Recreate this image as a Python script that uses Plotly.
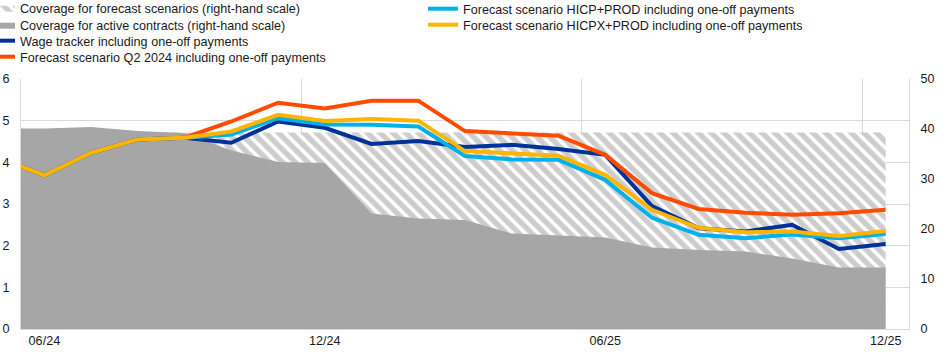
import plotly.graph_objects as go

months = ['05/24', '06/24', '07/24', '08/24', '09/24', '10/24', '11/24', '12/24',
          '01/25', '02/25', '03/25', '04/25', '05/25', '06/25', '07/25', '08/25',
          '09/25', '10/25', '11/25', '12/25']
tick_labels = ['06/24', '12/24', '06/25', '12/25']

# right-hand scale (%)
coverage_forecast = [39.3] * 20
coverage_active = [40.1, 40.1, 40.4, 39.6, 39.2, 35.7, 33.4, 33.2, 23.1, 22.1,
                   21.8, 19.1, 18.7, 18.3, 16.3, 15.8, 15.5, 14.1, 12.3, 12.3]
# left-hand scale (annual % change)
wage_tracker = [4.12, 3.69, 4.23, 4.55, 4.59, 4.47, 4.98, 4.83, 4.44, 4.51,
                4.37, 4.42, 4.32, 4.18, 2.95, 2.42, 2.34, 2.50, 1.92, 2.04]
scen_q2_2024 = [4.12, 3.69, 4.23, 4.55, 4.59, 4.98, 5.43, 5.29, 5.48, 5.48,
                4.75, 4.70, 4.64, 4.18, 3.26, 2.88, 2.79, 2.74, 2.78, 2.86]
scen_hicp = [4.12, 3.69, 4.23, 4.55, 4.59, 4.67, 5.06, 4.91, 4.90, 4.86,
             4.15, 4.07, 4.06, 3.58, 2.67, 2.26, 2.18, 2.27, 2.18, 2.28]
scen_hicpx = [4.12, 3.69, 4.23, 4.55, 4.59, 4.74, 5.14, 4.99, 5.04, 5.00,
              4.27, 4.22, 4.16, 3.70, 2.86, 2.43, 2.32, 2.34, 2.23, 2.35]

x = list(range(-1, len(months) - 1))  # 06/24 -> 0
tick_pos = [months.index(t) - 1 for t in tick_labels]

FONT = "Liberation Sans, Arial, sans-serif"
FS = 12.6
GRID = "#d9d9d9"
W, H = 946, 355
ML, MR, MT, MB = 21, 37, 79, 26
PW = W - ML - MR

fig = go.Figure()
fig.add_trace(go.Scatter(
    x=x, y=coverage_forecast, name="Coverage for forecast scenarios (right-hand scale)",
    mode="lines", line=dict(width=0), fill="tozeroy", fillcolor="#a6a6a6",
    fillpattern=dict(shape="\\", fgcolor="#9c9c9c", bgcolor="white", size=9, solidity=0.6),
    yaxis="y", legend="legend", hoverinfo="skip"))
fig.add_trace(go.Scatter(
    x=x, y=coverage_active, name="Coverage for active contracts (right-hand scale)",
    mode="lines", line=dict(width=0), fill="tozeroy", fillcolor="#a6a6a6",
    yaxis="y", legend="legend2"))
fig.add_trace(go.Scatter(
    x=x, y=wage_tracker, name="Wage tracker including one-off payments",
    mode="lines", line=dict(color="#003299", width=4), yaxis="y2", legend="legend3"))
fig.add_trace(go.Scatter(
    x=x, y=scen_q2_2024, name="Forecast scenario Q2 2024 including one-off payments",
    mode="lines", line=dict(color="#ff4b00", width=4), yaxis="y2", legend="legend4"))
fig.add_trace(go.Scatter(
    x=x, y=scen_hicp, name="Forecast scenario HICP+PROD including one-off payments",
    mode="lines", line=dict(color="#00b1ea", width=4), yaxis="y2", legend="legend5"))
fig.add_trace(go.Scatter(
    x=x, y=scen_hicpx, name="Forecast scenario HICPX+PROD including one-off payments",
    mode="lines", line=dict(color="#ffb400", width=4), yaxis="y2", legend="legend6"))


def leg(px_left, px_cy):
    return dict(xref="paper", yref="container",
                x=(px_left - ML) / PW, y=1 - px_cy / H,
                xanchor="left", yanchor="middle", bgcolor="rgba(0,0,0,0)",
                itemwidth=30, font=dict(size=FS), borderwidth=0)


fig.update_layout(
    width=W, height=H,
    margin=dict(l=ML, r=MR, t=MT, b=MB, autoexpand=False),
    paper_bgcolor="white", plot_bgcolor="white",
    font=dict(family=FONT, size=FS, color="#1a1a1a"),
    showlegend=True,
    legend=leg(-20, 8),
    legend2=leg(-20, 25),
    legend3=leg(-20, 41),
    legend4=leg(-20, 57),
    legend5=leg(423, 9),
    legend6=leg(423, 25),
    xaxis=dict(range=[-0.5, len(months) - 1.5], tickvals=tick_pos, ticktext=tick_labels,
               tickangle=0, showgrid=False, zeroline=False, ticks="", showline=True,
               linecolor=GRID,
               minor=dict(tickvals=[-0.5, 5.5, 11.5, 17.5], showgrid=True,
                          gridcolor=GRID, gridwidth=1, ticks="")),
    yaxis=dict(range=[0, 50], dtick=10, side="right", showgrid=False, zeroline=False,
               showline=True, linecolor=GRID, ticks="", ticklabelstandoff=8),
    yaxis2=dict(range=[0, 6], dtick=1, side="left", overlaying="y", showgrid=True,
                gridcolor=GRID, zeroline=False, showline=True, linecolor=GRID,
                ticks="", ticklabelstandoff=8),
)

fig.write_html("out.html", config={"displayModeBar": False},
               post_script="document.body.style.margin='0';")
